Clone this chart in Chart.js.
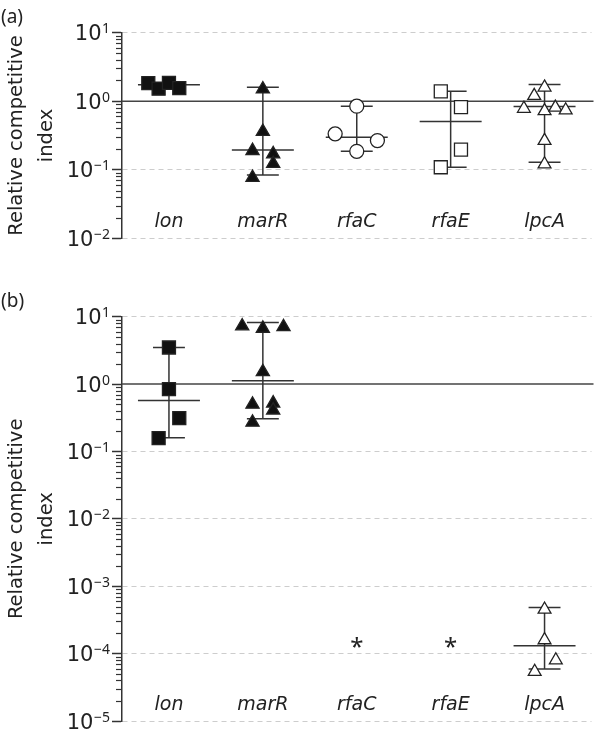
<!DOCTYPE html>
<html>
<head>
<meta charset="utf-8">
<script src="https://cdn.jsdelivr.net/npm/chart.js@4.4.1/dist/chart.umd.min.js"></script>
<style>
  html, body { margin: 0; padding: 0; background: #fff; }
  #wrap { position: relative; width: 602px; height: 735px; overflow: hidden; }
  .panel { position: absolute; left: 0; width: 602px; }
  #boxA { top: 0; height: 256px; }
  #boxB { top: 262px; height: 473px; }
  .tag { position: absolute; left: 1px; font: 19px 'Noto Sans', sans-serif; color: #222; line-height: 1; }
</style>
</head>
<body>
<div id="wrap">
  <div class="panel" id="boxA"><canvas id="chartA"></canvas></div>
  <div class="panel" id="boxB"><canvas id="chartB"></canvas></div>
  <div class="tag" style="top:7px">(a)</div>
  <div class="tag" style="top:291px">(b)</div>
</div>
<script>
// categories (genes)
const genes = ['lon', 'marR', 'rfaC', 'rfaE', 'lpcA'];

// y tick decades
const decadesA = [1e-2, 1e-1, 1, 10];
const decadesB = [1e-5, 1e-4, 1e-3, 1e-2, 1e-1, 1, 10];

// panel (a) values, with horizontal jitter (in category units)
const lonA = [1.83, 1.52, 1.85, 1.55];
const lonAJit = [-0.22, -0.11, 0, 0.11];
const marRA = [1.50, 0.36, 0.19, 0.17, 0.123, 0.077];
const marRAJit = [0, 0, -0.11, 0.11, 0.11, -0.11];
const rfaCA = [0.845, 0.334, 0.267, 0.186];
const rfaCAJit = [0, -0.23, 0.22, 0];
const rfaEA = [1.39, 0.817, 0.197, 0.109];
const rfaEAJit = [-0.105, 0.11, 0.11, -0.105];
const lpcAA = [1.59, 1.20, 0.78, 0.72, 0.81, 0.74, 0.265, 0.121];
const lpcAAJit = [0, -0.11, -0.22, 0, 0.115, 0.225, 0, 0];

// panel (a) median and range lines
const medianA = [1.73, 0.195, 0.298, 0.505, 0.836];
const lowA = [1.52, 0.084, 0.186, 0.109, 0.129];
const highA = [1.85, 1.6, 0.845, 1.39, 1.75];

// panel (b) values
const lonB = [3.49, 0.843, 0.313, 0.158];
const lonBJit = [0, 0, 0.11, -0.11];
const marRB = [7.26, 6.69, 7.08, 1.52, 0.50, 0.52, 0.41, 0.27];
const marRBJit = [-0.22, 0, 0.22, 0, -0.11, 0.11, 0.11, -0.11];
const lpcAB = [4.53e-4, 1.59e-4, 8.0e-5, 5.4e-5];
const lpcABJit = [0, 0, 0.12, -0.105];

// panel (b) median and range lines; asterisks where no value was recovered
const medianB = [0.571, 1.12, null, null, 1.31e-4];
const lowB = [0.16, 0.306, null, null, 5.9e-5];
const highB = [3.49, 8.2, null, null, 4.85e-4];
const starsB = [null, null, 1.55e-4, 1.55e-4, null];

const FONT = "'DejaVu Sans', sans-serif";
const INK = '#222';
const LINE = '#333';

function pts(vals, jit, idx) {
  return vals.map((v, k) => ({ x: idx + jit[k], y: v }));
}

function dotSet(vals, jit, idx, style, filled, radius) {
  return {
    type: 'scatter',
    data: pts(vals, jit, idx),
    pointStyle: style,
    pointRadius: radius,
    pointHoverRadius: radius,
    backgroundColor: filled ? '#111' : '#fff',
    borderColor: '#222',
    borderWidth: 1.3
  };
}

const summaryPlugin = {
  id: 'summary',
  beforeDatasetsDraw(chart, args, opts) {
    const { ctx, chartArea } = chart;
    const x = chart.scales.x;
    const y = chart.scales.y;
    ctx.save();
    ctx.lineCap = 'butt';

    // minor ticks on the log axis
    ctx.strokeStyle = LINE;
    ctx.lineWidth = 1.2;
    const ax = chartArea.left;
    for (let e = Math.round(Math.log10(y.min)); e < Math.round(Math.log10(y.max)); e++) {
      for (let k = 2; k <= 9; k++) {
        const py = Math.round(y.getPixelForValue(k * Math.pow(10, e))) + 0.5;
        ctx.beginPath();
        ctx.moveTo(ax - 6, py);
        ctx.lineTo(ax, py);
        ctx.stroke();
      }
    }

    // reference line at 1
    ctx.strokeStyle = '#444';
    ctx.lineWidth = 1.5;
    const yr = y.getPixelForValue(1);
    ctx.beginPath();
    ctx.moveTo(chartArea.left, yr);
    ctx.lineTo(chartArea.right + 2, yr);
    ctx.stroke();

    // median and range lines
    ctx.strokeStyle = LINE;
    ctx.lineWidth = 1.5;
    opts.median.forEach((m, i) => {
      if (m == null) return;
      const cx = x.getPixelForValue(i);
      const hw = x.getPixelForValue(i + 0.33) - cx;
      const cw = x.getPixelForValue(i + 0.17) - cx;
      const pm = y.getPixelForValue(m);
      const pl = y.getPixelForValue(opts.low[i]);
      const ph = y.getPixelForValue(opts.high[i]);
      ctx.beginPath();
      ctx.moveTo(cx - hw, pm); ctx.lineTo(cx + hw, pm);
      ctx.moveTo(cx, pl); ctx.lineTo(cx, ph);
      ctx.moveTo(cx - cw, pl); ctx.lineTo(cx + cw, pl);
      ctx.moveTo(cx - cw, ph); ctx.lineTo(cx + cw, ph);
      ctx.stroke();
    });
    ctx.restore();
  },
  afterDatasetsDraw(chart, args, opts) {
    const { ctx, chartArea } = chart;
    const x = chart.scales.x;
    const y = chart.scales.y;
    ctx.save();
    ctx.fillStyle = INK;

    // decade labels: 10 with a raised exponent
    const right = chartArea.left - 12;
    y.ticks.forEach((t) => {
      const py = y.getPixelForValue(t.value);
      const exp = String(Math.round(Math.log10(t.value))).replace('-', '\u2212');
      ctx.textAlign = 'right';
      ctx.textBaseline = 'alphabetic';
      ctx.font = "14px 'Noto Sans', sans-serif";
      const ew = ctx.measureText(exp).width;
      ctx.fillText(exp, right, py + 0.5);
      ctx.font = '21px ' + FONT;
      ctx.fillText('10', right - ew - 0.5, py + 7.6);
    });

    // gene names inside the plot
    ctx.textAlign = 'center';
    ctx.textBaseline = 'middle';
    ctx.font = 'italic 19px ' + FONT;
    genes.forEach((g, i) => {
      ctx.fillText(g, x.getPixelForValue(i), y.bottom - 16);
    });

    if (opts.stars) {
      ctx.textBaseline = 'alphabetic';
      ctx.font = "24px 'Noto Sans', sans-serif";
      opts.stars.forEach((s, i) => {
        if (s == null) return;
        ctx.fillText('*', x.getPixelForValue(i), y.getPixelForValue(s) + 14);
      });
    }
    ctx.restore();
  }
};

function makeChart(id, datasets, decades, summary, pad) {
  return new Chart(document.getElementById(id), {
    data: { datasets },
    plugins: [summaryPlugin],
    options: {
      responsive: true,
      maintainAspectRatio: false,
      animation: false,
      layout: { padding: pad },
      plugins: {
        legend: { display: false },
        tooltip: { enabled: false },
        summary
      },
      scales: {
        x: { type: 'linear', min: -0.5, max: 4.5, display: false },
        y: {
          type: 'logarithmic',
          min: decades[0],
          max: decades[decades.length - 1],
          afterBuildTicks: (s) => { s.ticks = decades.map((v) => ({ value: v, major: true })); },
          afterFit: (s) => { s.width = 122; },
          ticks: { display: false },
          grid: {
            color: (c) => (c.tick && c.tick.value === 1 ? 'rgba(0,0,0,0)' : '#cdcdcd'),
            lineWidth: 1,
            tickLength: 10,
            tickColor: LINE,
            tickWidth: 1.5
          },
          border: { color: LINE, width: 1.5, dash: [5, 4] },
          title: {
            display: true,
            text: ['Relative competitive', 'index'],
            color: INK,
            font: { family: FONT, size: 19.5, lineHeight: 1.55 },
            padding: { top: 2, bottom: 0 }
          }
        }
      }
    }
  });
}

makeChart('chartA', [
  dotSet(lonA, lonAJit, 0, 'rect', true, 9.2),
  dotSet(marRA, marRAJit, 1, 'triangle', true, 7.6),
  dotSet(rfaCA, rfaCAJit, 2, 'circle', false, 7),
  dotSet(rfaEA, rfaEAJit, 3, 'rect', false, 9.2),
  dotSet(lpcAA, lpcAAJit, 4, 'triangle', false, 7.4)
], decadesA, { median: medianA, low: lowA, high: highA, stars: null },
  { top: 32.5, bottom: 17.5, left: 0, right: 1 });

makeChart('chartB', [
  dotSet(lonB, lonBJit, 0, 'rect', true, 9.2),
  dotSet(marRB, marRBJit, 1, 'triangle', true, 7.6),
  dotSet(lpcAB, lpcABJit, 4, 'triangle', false, 7.4)
], decadesB, { median: medianB, low: lowB, high: highB, stars: starsB },
  { top: 54.7, bottom: 14, left: 0, right: 1 });
</script>
</body>
</html>
